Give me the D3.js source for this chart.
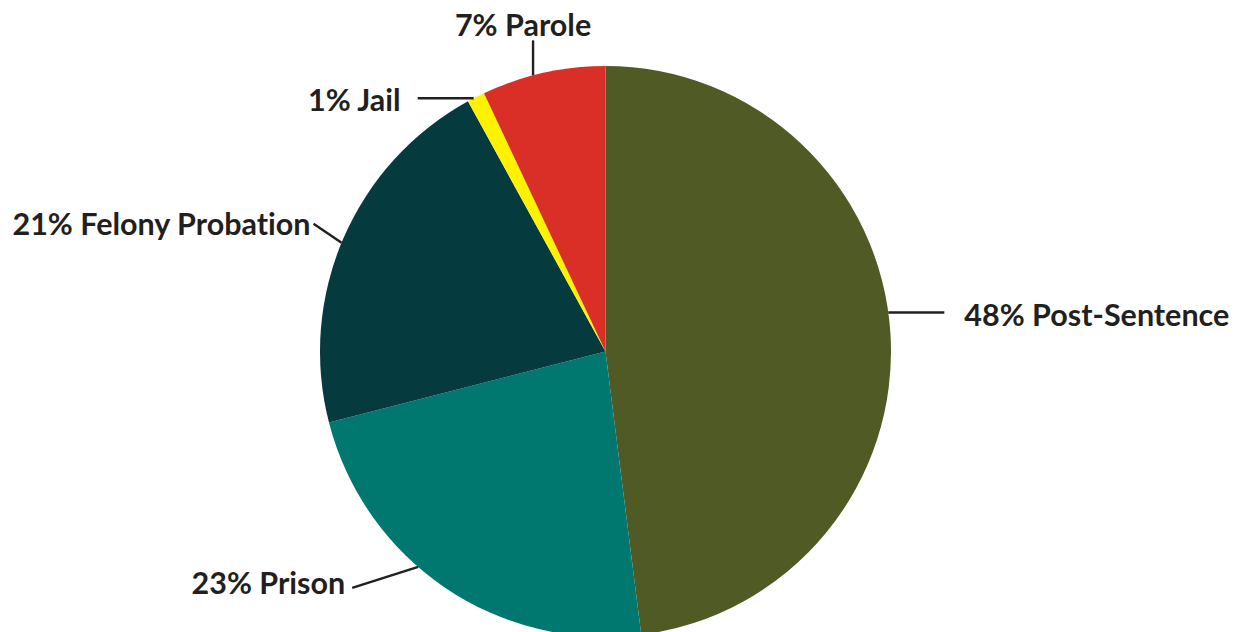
<!DOCTYPE html>
<html>
<head>
<meta charset="utf-8">
<script src="https://cdn.jsdelivr.net/npm/d3@7"></script>
<style>
  html, body { margin: 0; padding: 0; background: #ffffff; }
  svg { display: block; }
  .lbl { font-family: "Lato", "Noto Sans", sans-serif; font-weight: 700; font-size: 30.5px; fill: #231f20;
         font-variant-ligatures: none; font-feature-settings: "liga" 0, "dlig" 0; }
  .leader { stroke: #231f20; stroke-width: 2.4; fill: none; }
</style>
</head>
<body>
<svg id="chart" width="1238" height="632"></svg>
<script>
// Share of cases by supervision status (percent)
const categories = ["Post-Sentence", "Prison", "Felony Probation", "Jail", "Parole"];
const values = [48, 23, 21, 1, 7];
const colors = ["#4f5a25", "#00776f", "#053b3f", "#fff200", "#d92f26"];

// Leader-line placement per slice: anchor angle on the rim (degrees clockwise from 12 o'clock),
// end of the leader relative to the anchor, and text offset relative to the leader end.
const labelLayout = [
  { angle: 82.15, end: [56, 0],   text: [20, 13.5], anchor: "start" },
  { angle: 221,   end: [-66, 21], text: [-7, 6],    anchor: "end" },
  { angle: 292.4, end: [-28, -19],text: [-3, 11],   anchor: "end" },
  { angle: 332.5, end: [-56, 0],  text: [-17, 13],  anchor: "end" },
  { angle: 345.3, end: [0, -35],  text: [-10, -4],  anchor: "middle" }
];

const svg = d3.select("#chart");
const cx = 605.5, cy = 351.5, radius = 285.5;

const data = categories.map((c, i) => ({ category: c, value: values[i], color: colors[i], layout: labelLayout[i] }));

const pie = d3.pie().sort(null).value(d => d.value).startAngle(0).endAngle(2 * Math.PI);
const arc = d3.arc().innerRadius(0).outerRadius(radius);

const g = svg.append("g").attr("transform", `translate(${cx},${cy})`);

g.selectAll("path.slice")
  .data(pie(data))
  .join("path")
  .attr("class", "slice")
  .attr("d", arc)
  .attr("fill", d => d.data.color);

const rim = deg => {
  const a = deg * Math.PI / 180;
  return [radius * Math.sin(a), -radius * Math.cos(a)];
};

const labels = g.selectAll("g.label")
  .data(data)
  .join("g")
  .attr("class", "label");

labels.append("line")
  .attr("class", "leader")
  .attr("x1", d => rim(d.layout.angle)[0])
  .attr("y1", d => rim(d.layout.angle)[1])
  .attr("x2", d => rim(d.layout.angle)[0] + d.layout.end[0])
  .attr("y2", d => rim(d.layout.angle)[1] + d.layout.end[1]);

labels.append("text")
  .attr("class", "lbl")
  .attr("text-anchor", d => d.layout.anchor)
  .attr("x", d => rim(d.layout.angle)[0] + d.layout.end[0] + d.layout.text[0])
  .attr("y", d => rim(d.layout.angle)[1] + d.layout.end[1] + d.layout.text[1])
  .text(d => `${d.value}% ${d.category}`);
</script>
</body>
</html>
